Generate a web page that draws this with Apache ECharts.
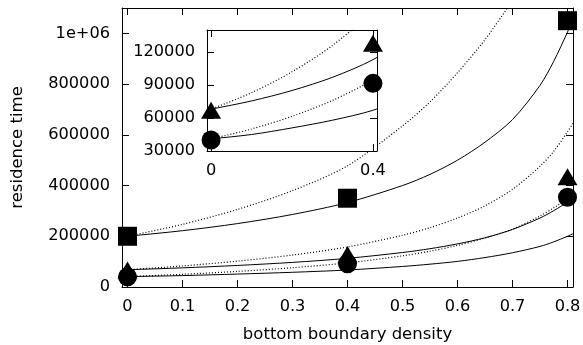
<!DOCTYPE html>
<html><head><meta charset="utf-8">
<script src="https://cdn.jsdelivr.net/npm/echarts@6/dist/echarts.min.js"></script>
<style>html,body{margin:0;padding:0;background:#fff}#c{width:583px;height:345px}</style>
</head><body><div id="c"></div>
<script>
// tick labels
const xTicks = [0, 0.1, 0.2, 0.3, 0.4, 0.5, 0.6, 0.7, 0.8];
const yTicks = [0, 200000, 400000, 600000, 800000, 1000000];
const insetXTicks = [0, 0.4];
const insetYTicks = [30000, 60000, 90000, 120000];

// measured points
const pointX = [0, 0.4, 0.8];
const squareVals = [200000, 350000, 1050000];
const triangleVals = [67000, 128000, 435000];
const circleVals = [40000, 91500, 354000];

// fitted curves
const curveX = [-0.01, 0, 0.1, 0.2, 0.3, 0.4, 0.5, 0.55, 0.6, 0.65, 0.7, 0.75, 0.775, 0.8, 0.81];
const squareSolid = [198000, 200000, 222000, 250000, 286000, 333000, 400000, 444000, 500000, 571000, 660000, 795000, 890000, 1005000, 1055000];
const squareDotted = [196000, 200000, 247000, 306000, 380000, 478000, 635000, 730000, 845000, 975000, 1130000];
const triangleSolid = [67300, 68000, 75500, 85000, 97000, 113000, 136000, 151000, 170000, 194000, 227000, 272000, 301000, 335000, 352000];
const triangleDotted = [66700, 68000, 83000, 102000, 126000, 158000, 204000, 234000, 272000, 320000, 385000, 476000, 535000, 612000, 645000];
const circleSolid = [40600, 41000, 45000, 51000, 58000, 67000, 81000, 90000, 101000, 116000, 135000, 160000, 178000, 200000, 210000];
const circleDotted = [40200, 41000, 50000, 61500, 76000, 95000, 123000, 141000, 164000, 193000, 228000, 280000, 312000, 350000, 368000];

const FONT = 'DejaVu Sans';
const TICK_FS = 16.2;
const NAME_FS = 16.5;
const zip = (xs, ys) => ys.map((y, i) => [xs[i], y]);
const DOT = [1, 2];

function xAx(grid, pos, min, max, ticks, showLabel, z, extra) {
  return Object.assign({
    gridIndex: grid, type: 'value', position: pos, min: min, max: max, z: z,
    axisLine: { show: true, onZero: false, lineStyle: { color: '#000', width: 1 } },
    axisTick: { show: true, inside: true, length: 7, customValues: ticks, lineStyle: { color: '#000', width: 1 } },
    axisLabel: { show: showLabel, customValues: ticks, color: '#000', fontSize: TICK_FS, fontFamily: FONT, margin: 12,
      formatter: v => String(v) },
    splitLine: { show: false }
  }, extra || {});
}
function yAx(grid, pos, min, max, ticks, showLabel, z, fmt, extra) {
  return Object.assign({
    gridIndex: grid, type: 'value', position: pos, min: min, max: max, z: z,
    axisLine: { show: true, onZero: false, lineStyle: { color: '#000', width: 1 } },
    axisTick: { show: true, inside: true, length: 7, customValues: ticks, lineStyle: { color: '#000', width: 1 } },
    axisLabel: { show: showLabel, customValues: ticks, color: '#000', fontSize: TICK_FS, fontFamily: FONT, margin: 12,
      formatter: fmt },
    splitLine: { show: false }
  }, extra || {});
}

function line(data, dotted, xi, z) {
  return { type: 'line', data: data, xAxisIndex: xi, yAxisIndex: xi, z: z, showSymbol: false, symbol: 'none',
    smooth: 0.3, clip: true, silent: true, animation: false,
    lineStyle: { color: '#000', width: dotted ? 1.2 : 1, type: dotted ? DOT : 'solid' } };
}
function pts(vals, symbol, size, xi, z) {
  return { type: 'scatter', data: zip(pointX, vals), xAxisIndex: xi, yAxisIndex: xi, z: z, symbol: symbol,
    symbolSize: size, clip: true, silent: true, animation: false, itemStyle: { color: '#000', opacity: 1 } };
}

const chart = echarts.init(document.getElementById('c'), null, { renderer: 'canvas' });
chart.setOption({
  animation: false,
  backgroundColor: '#fff',
  textStyle: { fontFamily: FONT },
  grid: [
    { left: 122, top: 8, width: 451, height: 279, show: false, z: 0, containLabel: false, outerBoundsMode: 'none' },
    { left: 207, top: 30, width: 170, height: 121, show: true, backgroundColor: '#fff', borderWidth: 0, z: 10,
      containLabel: false, outerBoundsMode: 'none' }
  ],
  xAxis: [
    xAx(0, 'bottom', -0.01, 0.81, xTicks, true, 1, {
      name: 'bottom boundary density', nameLocation: 'middle', nameGap: 39,
      nameTextStyle: { color: '#000', fontSize: NAME_FS, fontFamily: FONT } }),
    xAx(0, 'top', -0.01, 0.81, xTicks, false, 1),
    xAx(1, 'bottom', -0.01, 0.41, insetXTicks, true, 12),
    xAx(1, 'top', -0.01, 0.41, insetXTicks, false, 12)
  ],
  yAxis: [
    yAx(0, 'left', 0, 1100000, yTicks, true, 1, v => (v === 1000000 ? '1e+06' : String(v)), {
      name: 'residence time', nameLocation: 'middle', nameGap: 96, nameRotate: 90,
      nameTextStyle: { color: '#000', fontSize: NAME_FS, fontFamily: FONT } }),
    yAx(0, 'right', 0, 1100000, yTicks, false, 1, v => String(v)),
    yAx(1, 'left', 30000, 140000, insetYTicks, true, 12, v => String(v)),
    yAx(1, 'right', 30000, 140000, insetYTicks, false, 12, v => String(v))
  ],
  series: [
    line(zip(curveX, squareSolid), false, 0, 2),
    line(zip(curveX, squareDotted), true, 0, 2),
    line(zip(curveX, triangleSolid), false, 0, 2),
    line(zip(curveX, triangleDotted), true, 0, 2),
    line(zip(curveX, circleSolid), false, 0, 2),
    line(zip(curveX, circleDotted), true, 0, 2),
    pts(squareVals, 'rect', 19, 0, 3),
    pts(triangleVals, 'triangle', [20, 17], 0, 3),
    pts(circleVals, 'circle', 19, 0, 3),
    line(zip(curveX, triangleSolid), false, 2, 11),
    line(zip(curveX, triangleDotted), true, 2, 11),
    line(zip(curveX, circleSolid), false, 2, 11),
    line(zip(curveX, circleDotted), true, 2, 11),
    pts(triangleVals, 'triangle', [20, 17], 2, 13),
    pts(circleVals, 'circle', 19, 2, 13)
  ]
});
</script>
</body></html>
